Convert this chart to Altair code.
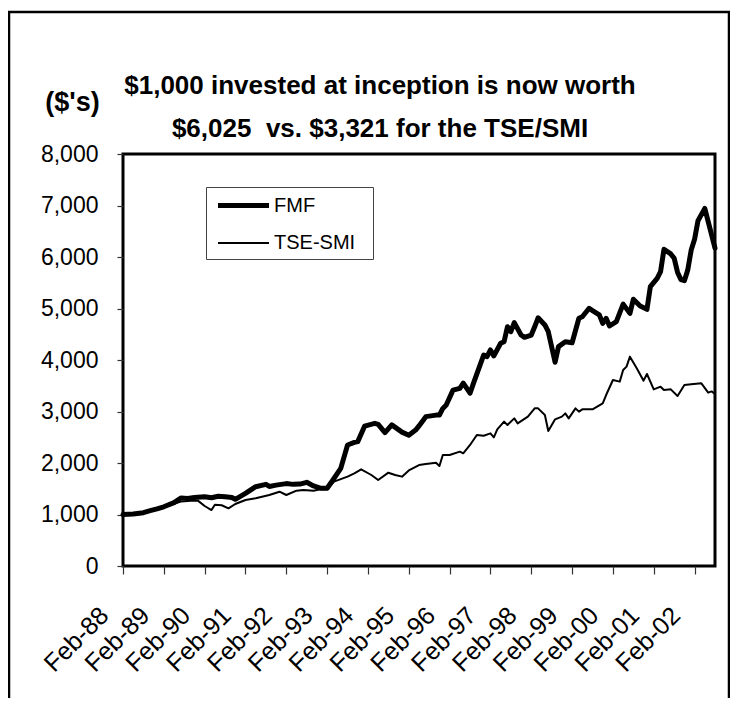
import altair as alt
import pandas as pd

# ---- data (month index 0 = Feb-88) ----
FMF_MONTHS = [0, 3, 6, 8, 10, 12, 15, 17, 19, 21, 24, 26, 28, 30, 32, 33, 36, 39, 42, 43,
              45, 48, 50, 52, 54, 56, 58, 60, 62, 64, 66, 68, 69, 71, 74, 75, 77, 79, 82, 84,
              86, 87, 89, 92, 93, 94, 95, 97, 99, 100, 102, 103, 106, 107, 108, 109, 111, 112, 113, 114,
              115, 117, 118, 120, 121, 122, 124, 125, 127, 128, 130, 132, 134, 135, 137, 138, 140, 141, 142, 143,
              145, 147, 149, 150, 152, 154, 155, 157, 158, 159, 161, 162, 163, 164, 165, 166, 167, 168, 169, 171,
              172, 174]
FMF_VALUES = [1000, 1010, 1035, 1075, 1110, 1150, 1230, 1320, 1310, 1330, 1345, 1325, 1355, 1345, 1330, 1295, 1410, 1540, 1585, 1545,
              1570, 1600, 1585, 1590, 1625, 1555, 1510, 1510, 1700, 1895, 2350, 2400, 2415, 2715, 2770, 2750, 2590, 2740, 2600, 2540,
              2640, 2720, 2900, 2930, 2930, 3060, 3125, 3415, 3450, 3550, 3355, 3545, 4095, 4065, 4195, 4080, 4325, 4355, 4645, 4550,
              4725, 4485, 4440, 4485, 4645, 4820, 4680, 4550, 3955, 4260, 4355, 4335, 4810, 4840, 5005, 4960, 4875, 4710, 4810, 4660,
              4745, 5085, 4905, 5180, 5050, 4985, 5425, 5585, 5715, 6150, 6060, 5975, 5700, 5560, 5540, 5750, 6135, 6345, 6705, 6945,
              6685, 6170]

TSE_MONTHS = [0, 6, 12, 15, 17, 20, 22, 24, 26, 27, 29, 31, 33, 36, 39, 43, 46, 48, 51, 53,
              56, 58, 60, 62, 66, 68, 70, 73, 75, 78, 80, 82, 84, 87, 89, 92, 93, 94, 96, 99,
              100, 102, 104, 106, 108, 109, 110, 112, 113, 115, 116, 119, 121, 122, 124, 125, 127, 129, 130, 131,
              133, 134, 135, 138, 141, 142, 144, 146, 147, 148, 149, 151, 153, 154, 156, 158, 159, 161, 163, 165,
              167, 170, 172, 173, 174]
TSE_VALUES = [1000, 1030, 1150, 1210, 1250, 1265, 1269, 1165, 1087, 1190, 1180, 1120, 1204, 1282, 1314, 1379, 1443, 1379, 1463, 1476,
              1460, 1489, 1489, 1638, 1735, 1799, 1877, 1767, 1670, 1812, 1767, 1735, 1855, 1961, 1981, 2006, 1942, 2155, 2155, 2220,
              2188, 2350, 2544, 2530, 2576, 2498, 2654, 2803, 2738, 2867, 2770, 2900, 3061, 3061, 2932, 2621, 2848, 2900, 2964, 2867,
              3061, 2997, 3042, 3042, 3159, 3320, 3612, 3580, 3806, 3871, 4065, 3838, 3599, 3728, 3430, 3482, 3417, 3430, 3301, 3515,
              3528, 3547, 3366, 3390, 3340]

SERIES = ["FMF", "TSE-SMI"]
TICK_MONTHS = [0, 12, 24, 36, 48, 60, 72, 84, 96, 108, 120, 132, 144, 156, 168]
TICK_LABELS = ["Feb-88", "Feb-89", "Feb-90", "Feb-91", "Feb-92", "Feb-93", "Feb-94", "Feb-95",
               "Feb-96", "Feb-97", "Feb-98", "Feb-99", "Feb-00", "Feb-01", "Feb-02"]
Y_TICKS = [0, 1000, 2000, 3000, 4000, 5000, 6000, 7000, 8000]
TITLE_LINES = ["$1,000 invested at inception is now worth", "$6,025 \u00a0vs. $3,321 for the TSE/SMI"]
Y_TITLE = "($'s)"

assert len(FMF_MONTHS) == len(FMF_VALUES)
assert len(TSE_MONTHS) == len(TSE_VALUES)

df = pd.concat([
    pd.DataFrame({"month": FMF_MONTHS, "value": FMF_VALUES, "series": SERIES[0]}),
    pd.DataFrame({"month": TSE_MONTHS, "value": TSE_VALUES, "series": SERIES[1]}),
], ignore_index=True)

FONT = "Liberation Sans, Arial, Helvetica, sans-serif"
label_array = "[" + ",".join("'%s'" % t for t in TICK_LABELS) + "]"

lines = alt.Chart(df).mark_line(color="black", strokeJoin="round", strokeCap="round").encode(
    x=alt.X("month:Q",
            scale=alt.Scale(domain=[0, 174], nice=False, zero=False),
            axis=alt.Axis(values=TICK_MONTHS, labelExpr=label_array + "[round(datum.value / 12)]",
                          labelAngle=315, labelAlign="right", labelBaseline="middle",
                          labelPadding=37, labelOffset=-19, tickSize=8, labelFontSize=25, labelFont=FONT,
                          labelFlush=False, labelOverlap=False, labelBound=False,
                          domain=False, grid=False, tickColor="#333", tickWidth=1.2,
                          labelColor="black", title=None)),
    y=alt.Y("value:Q",
            scale=alt.Scale(domain=[0, 8000], nice=False),
            axis=alt.Axis(values=Y_TICKS, format=",d", labelFontSize=23, labelFont=FONT,
                          labelPadding=19, tickSize=6, domain=False, grid=False,
                          tickColor="#333", tickWidth=1.2, labelColor="black",
                          title=Y_TITLE, titleAngle=0, titleX=-51, titleY=-44,
                          titleAlign="center", titleBaseline="alphabetic",
                          titleFontSize=27, titleFont=FONT, titleFontWeight="bold",
                          titleColor="black")),
    strokeWidth=alt.StrokeWidth("series:N",
                                scale=alt.Scale(domain=SERIES, range=[5, 2]),
                                legend=alt.Legend(title=None, orient="none", legendX=83, legendY=33,
                                                  symbolType="M-2.55,0H2.55", symbolSize=400,
                                                  symbolStrokeColor="black", symbolFillColor="transparent",
                                                  symbolOffset=19,
                                                  labelFontSize=20, labelFont=FONT, labelColor="black",
                                                  labelOffset=18, padding=6, rowPadding=16,
                                                  labelExpr="datum.label + '\u00a0\u00a0\u200b'",
                                                  strokeColor="#444", fillColor="white")),
)

frame = alt.Chart(alt.Data(values=[{"k": 1}])).mark_rect(
    filled=False, stroke="black", strokeWidth=2.5
).encode(
    x=alt.value(-114), x2=alt.value(606), y=alt.value(-142), y2=alt.value(650)
)

chart = alt.layer(lines, frame).properties(
    width=592, height=412,
    title=alt.TitleParams(text=TITLE_LINES, fontSize=26, font=FONT, fontWeight="bold",
                          lineHeight=43, anchor="middle", dx=-39, offset=-131, color="black"),
    autosize=alt.AutoSizeParams(type="none"),
    padding={"left": 115, "top": 146, "right": 15, "bottom": 132},
    background="white",
).configure_view(stroke="black", strokeWidth=3)

chart.save("out.html", embed_options={"renderer": "svg", "actions": False})
